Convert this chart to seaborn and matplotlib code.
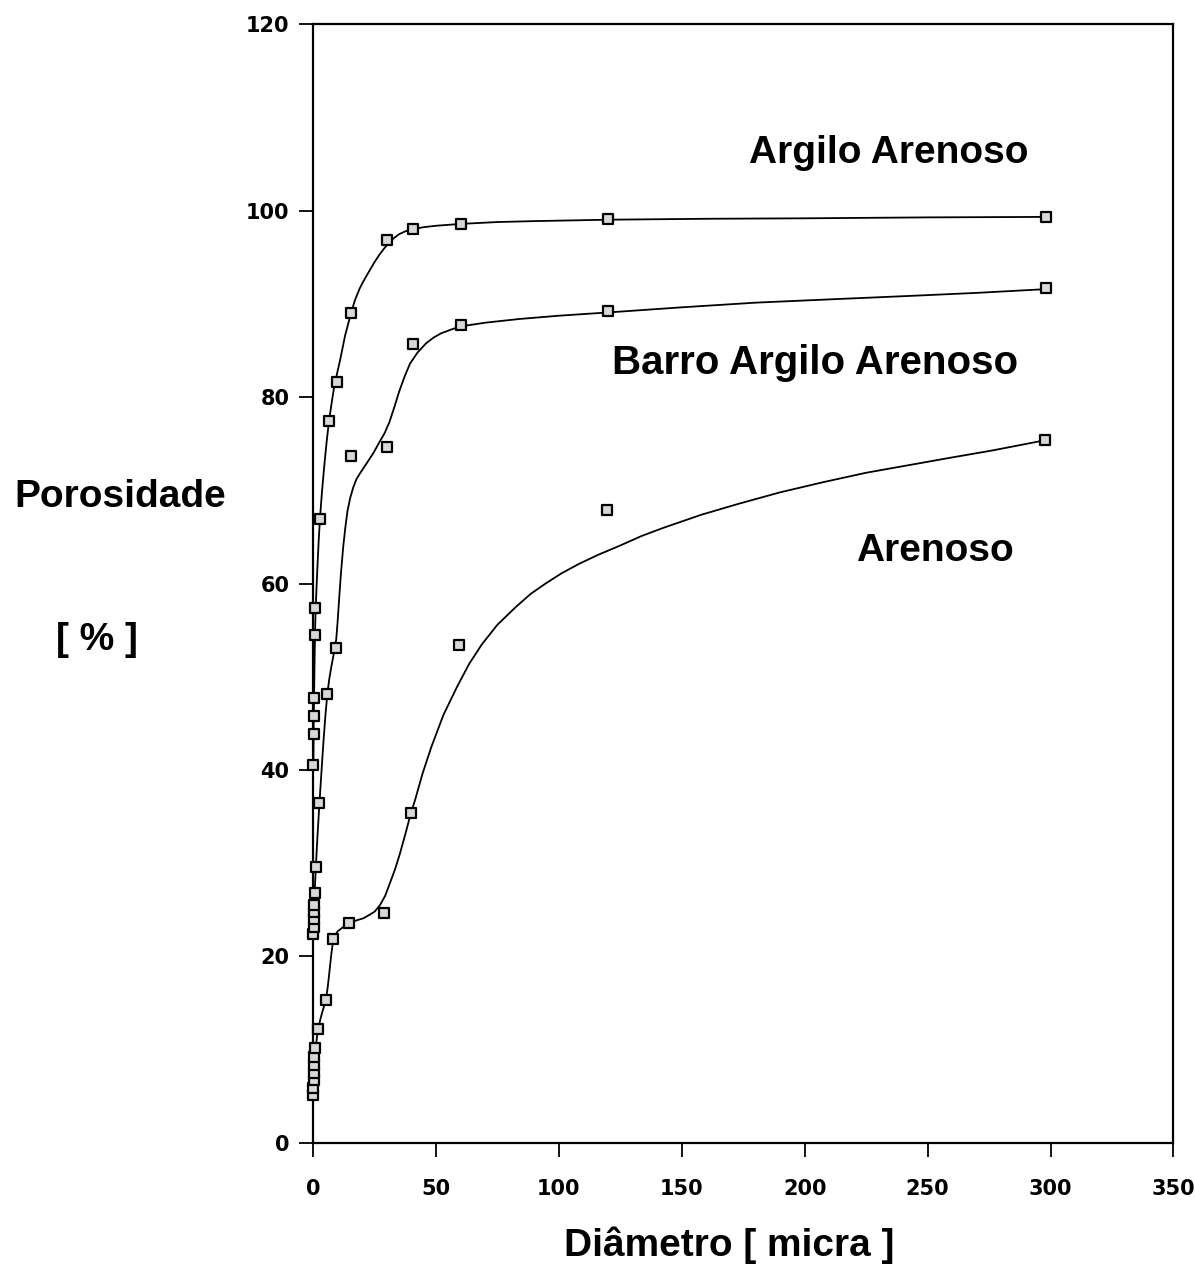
import matplotlib
matplotlib.use("Agg")
import matplotlib.pyplot as plt
import numpy as np
import pandas as pd
import seaborn as sns

sns.set_theme(style="white")
plt.rcParams["font.family"] = ["Liberation Sans", "DejaVu Sans"]
plt.rcParams["text.color"] = "black"
plt.rcParams["xtick.color"] = "black"
plt.rcParams["ytick.color"] = "black"

# measured points (diameter in micra, porosity in %)
argilo_x = [0.1, 0.2, 0.3, 0.4, 0.7, 0.9, 2.8, 6.5, 9.8, 15.4, 30, 40.5, 60, 120, 298]
argilo_y = [40.5, 43.9, 45.8, 47.7, 54.5, 57.4, 66.9, 77.5, 81.6, 89.0, 96.9, 98.0, 98.6, 99.1, 99.3]

barro_x = [0.1, 0.2, 0.3, 0.4, 0.5, 0.7, 1.0, 2.6, 5.8, 9.4, 15.4, 30, 40.6, 60, 120, 298]
barro_y = [22.4, 23.2, 24.0, 24.8, 25.5, 26.8, 29.6, 36.5, 48.2, 53.1, 73.7, 74.7, 85.7, 87.8, 89.3, 91.7]

arenoso_x = [0.1, 0.15, 0.2, 0.3, 0.4, 0.5, 0.7, 2.1, 5.3, 8.1, 14.6, 28.9, 39.8, 59.4, 119.7, 297.6]
arenoso_y = [5.1, 5.9, 6.7, 7.5, 8.3, 9.2, 10.2, 12.2, 15.3, 21.9, 23.6, 24.7, 35.4, 53.4, 67.9, 75.4]

# hand-drawn fitted curves
argilo_cx = [0.1, 0.25, 0.4, 0.65, 0.9, 1.3, 1.8, 2.3, 2.8, 3.6, 4.5, 5.5, 6.5, 7.5, 8.5,
             9.8, 11, 13, 15.4, 17, 19, 21, 23, 25, 27, 29, 31, 33, 35, 37.5, 40, 45, 50,
             60, 75, 90, 120, 160, 200, 250, 298]
argilo_cy = [40, 45, 48, 52.5, 56, 59, 62, 64.7, 67, 69.8, 72.5, 75.2, 77.5, 79.3, 81,
             82.6, 84, 86.6, 89, 90.4, 91.7, 92.7, 93.6, 94.5, 95.3, 96.0, 96.6, 97.1, 97.5,
             97.8, 98.0, 98.25, 98.4, 98.6, 98.8, 98.9, 99.05, 99.15, 99.2, 99.3, 99.35]

barro_cx = [0.1, 0.3, 0.5, 0.8, 1.2, 1.8, 2.6, 3.4, 4.2, 5, 5.8, 6.6, 7.5, 8.5, 9.4, 10,
            10.5, 11.3, 12.2, 13.1, 14, 15.1, 16.3, 17.6, 19, 20.5, 22, 24.5, 27, 29, 31,
            33, 35, 37.2, 39.4, 42.5, 46, 49, 52, 56, 60, 70, 84, 100, 120, 150, 180, 210,
            245, 270, 298]
barro_cy = [22.5, 24, 25.5, 27.8, 30, 33, 36.5, 39.8, 43, 45.8, 48.2, 49.8, 51.2, 52.6,
            54, 56, 58, 61, 63.8, 66, 67.8, 69.2, 70.3, 71.2, 71.8, 72.4, 73, 74, 75.2,
            76.1, 77.3, 78.9, 80.6, 82.2, 83.6, 84.8, 85.8, 86.4, 86.85, 87.25, 87.6, 88.0,
            88.4, 88.75, 89.1, 89.65, 90.15, 90.5, 90.9, 91.2, 91.6]

arenoso_cx = [0.1, 0.3, 0.6, 0.9, 1.2, 1.6, 2.1, 2.9, 3.7, 4.5, 5.3, 6.0, 6.7, 7.4, 8.1,
              9, 10, 12.5, 14.6, 18, 20.5, 22.5, 25, 27.2, 29.3, 31.3, 33.4, 35.4, 37.6,
              39.8, 41.5, 44.5, 48, 53, 58.5, 63.5, 68.7, 75, 82.5, 88.5, 94.5, 101, 108,
              116, 125, 133.5, 142.6, 158, 173.5, 190, 207.7, 225, 242, 259, 276.5, 298]
arenoso_cy = [5, 6.5, 8, 9.4, 10.5, 11.4, 12.2, 13.2, 14, 14.7, 15.5, 16.8, 18.5, 20.2,
              21.6, 22.3, 22.7, 23.2, 23.6, 23.9, 24.1, 24.4, 24.8, 25.5, 26.5, 27.9, 29.4,
              31.1, 33.2, 35.4, 36.8, 39.6, 42.4, 45.9, 48.9, 51.4, 53.5, 55.6, 57.5, 58.9,
              60, 61.1, 62.1, 63.1, 64.1, 65.1, 66.0, 67.4, 68.6, 69.8, 70.9, 71.9, 72.7,
              73.5, 74.3, 75.4]

labels = ["Argilo Arenoso", "Barro Argilo Arenoso", "Arenoso"]

pts = pd.concat([
    pd.DataFrame({"x": argilo_x, "y": argilo_y, "solo": labels[0]}),
    pd.DataFrame({"x": barro_x, "y": barro_y, "solo": labels[1]}),
    pd.DataFrame({"x": arenoso_x, "y": arenoso_y, "solo": labels[2]}),
])
curves = pd.concat([
    pd.DataFrame({"x": argilo_cx, "y": argilo_cy, "solo": labels[0]}),
    pd.DataFrame({"x": barro_cx, "y": barro_cy, "solo": labels[1]}),
    pd.DataFrame({"x": arenoso_cx, "y": arenoso_cy, "solo": labels[2]}),
])

fig = plt.figure(figsize=(11.95, 12.87), dpi=100)
ax = fig.add_axes([0.262, 0.112, 0.72, 0.869])

black = {lab: "black" for lab in labels}
sns.lineplot(data=curves, x="x", y="y", hue="solo", palette=black, sort=False,
             estimator=None, linewidth=1.3, legend=False, ax=ax)
sns.scatterplot(data=pts, x="x", y="y", hue="solo", palette=black, marker="s",
                s=55, linewidth=1.6, legend=False, clip_on=False, zorder=3, ax=ax)
# square interiors are light grey with dark rim
for coll in ax.collections:
    coll.set_facecolor("#d8d8d8")
    coll.set_edgecolor("black")

ax.set_xlim(0, 350)
ax.set_ylim(0, 120)
ax.set_xticks(np.arange(0, 351, 50))
ax.set_yticks(np.arange(0, 121, 20))

for side in ax.spines.values():
    side.set_color("black")
    side.set_linewidth(1.6)

ax.tick_params(axis="both", direction="out", length=10, width=1.3, color="black",
               labelcolor="black", left=True, bottom=True)
ax.tick_params(axis="x", pad=16)
ax.tick_params(axis="y", pad=7)
for t in ax.get_xticklabels() + ax.get_yticklabels():
    t.set_fontfamily("DejaVu Sans")
    t.set_fontweight("bold")
    t.set_fontsize(15)

ax.set_xlabel("")
ax.set_ylabel("")

txt = dict(fontsize=28, fontweight="bold", color="black", ha="center", va="center")
fig.text(120 / 1195, 1 - 497 / 1287, "Porosidade", **txt)
fig.text(97 / 1195, 1 - 640 / 1287, "[ % ]", **txt)
fig.text(729 / 1195, 1 - 1245 / 1287, "Diâmetro [ micra ]", **txt)

ax.text(234, 106.2, "Argilo Arenoso", **txt)
ax.text(204, 83.7, "Barro Argilo Arenoso", fontsize=29, fontweight="bold",
        color="black", ha="center", va="center")
ax.text(253, 63.5, "Arenoso", **txt)

fig.savefig("out.png", dpi=100)
